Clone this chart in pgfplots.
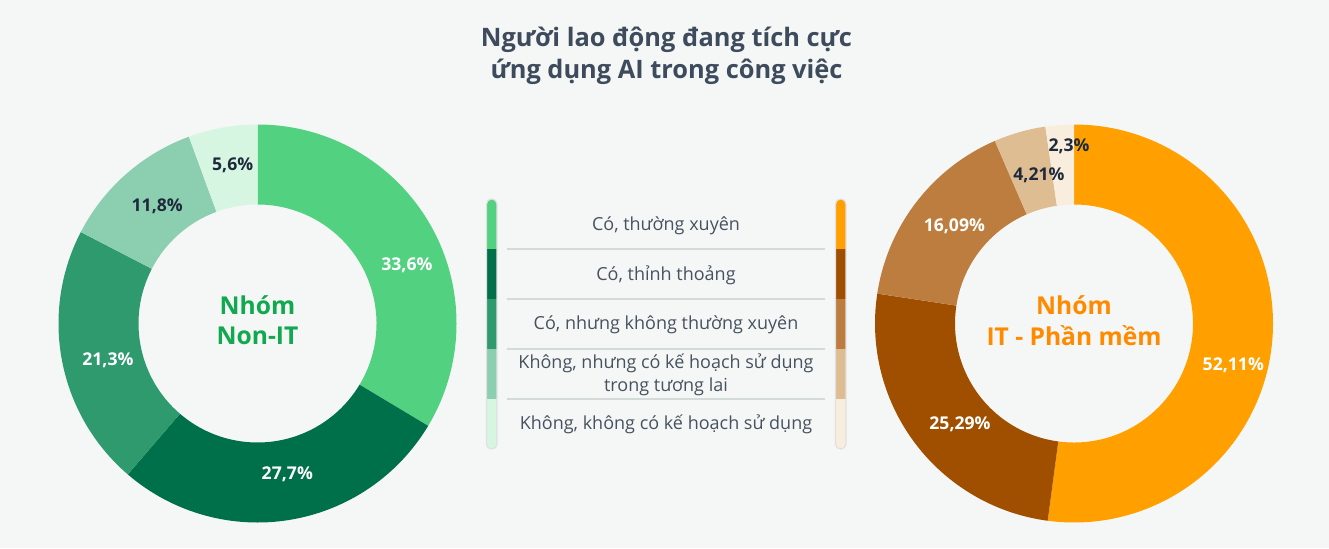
\documentclass[border=0pt]{standalone}
\usepackage{fontspec}
\setmainfont{Open Sans}
\usepackage{pgfplots}
\usepackage{pgfplotstable}
\pgfplotsset{compat=1.18}
\definecolor{bgc}{HTML}{F5F7F6}
\definecolor{gA}{HTML}{52D180}
\definecolor{gB}{HTML}{00704A}
\definecolor{gC}{HTML}{2E9A6E}
\definecolor{gD}{HTML}{8CCFB0}
\definecolor{gE}{HTML}{D6F6E2}
\definecolor{oA}{HTML}{FFA000}
\definecolor{oB}{HTML}{A04F00}
\definecolor{oC}{HTML}{BC7D3E}
\definecolor{oD}{HTML}{DFBD92}
\definecolor{oE}{HTML}{F9EEDD}
\definecolor{lbl}{HTML}{1E2A3B}
\definecolor{titlec}{HTML}{3D4B5C}
\definecolor{legc}{HTML}{46525F}
\definecolor{sepc}{HTML}{D3DBD9}
\definecolor{greent}{HTML}{12A84F}
\definecolor{oranget}{HTML}{FF8A00}

% share, label angle (deg), label radius (px), slice colour, label colour
\pgfplotstableread{
share la lr col tc
33.6 21.4 160.5 gA white
27.7 -78.8 153.4 gB white
21.3 193.7 154 gC white
11.8 130.5 154.4 gD lbl
5.6 98.9 160.4 gE lbl
}\nonit
\pgfplotstableread{
share la lr col tc
52.11 -14.6 164.6 oA white
25.29 221.4 152 oB white
16.09 140.8 154.4 oC white
4.21 103.3 152.6 oD lbl
2.3 91.6 177.6 oE lbl
}\itsw

\newcommand\donut[3]{%
 \pgfplotstablegetrowsof{#1}\pgfmathtruncatemacro\N{\pgfplotsretval-1}%
 \xdef\cum{0}%
 \foreach \i in {0,...,\N}{%
   \pgfplotstablegetelem{\i}{share}\of#1\pgfmathsetmacro\v{\pgfplotsretval}%
   \pgfplotstablegetelem{\i}{col}\of#1\edef\col{\pgfplotsretval}%
   \pgfmathsetmacro\aA{90-\cum*3.6}%
   \pgfmathsetmacro\aB{90-(\cum+\v)*3.6}%
   \fill[\col] (axis cs:#2,#3) ++(\aA:99.5pt) arc[start angle=\aA,end angle=\aB,radius=99.5pt]
      -- ++({\aB+180}:40pt) arc[start angle=\aB,end angle=\aA,radius=59.5pt] -- cycle;
   \pgfmathsetmacro\c{\cum+\v}\xdef\cum{\c}%
 }%
 \foreach \i in {0,...,\N}{%
   \pgfplotstablegetelem{\i}{share}\of#1\pgfmathsetmacro\v{\pgfplotsretval}%
   \pgfplotstablegetelem{\i}{la}\of#1\pgfmathsetmacro\la{\pgfplotsretval}%
   \pgfplotstablegetelem{\i}{lr}\of#1\pgfmathsetmacro\lr{\pgfplotsretval*0.5}%
   \pgfplotstablegetelem{\i}{tc}\of#1\edef\tc{\pgfplotsretval}%
   \path (axis cs:#2,#3) ++(\la:\lr pt) node[text=\tc,font=\bfseries\fontsize{8.8}{10}\selectfont]
     {\pgfmathprintnumber[use comma,precision=2,assume math mode=true]{\v}\%};
 }%
}

\newcommand\legbar[3]{% table, x-left, x-right
 \begin{scope}
 \clip[rounded corners=2.5pt] (axis cs:#2,99) rectangle (axis cs:#3,349);
 \pgfplotstablegetrowsof{#1}\pgfmathtruncatemacro\N{\pgfplotsretval-1}%
 \foreach \i in {0,...,\N}{%
   \pgfplotstablegetelem{\i}{col}\of#1\edef\col{\pgfplotsretval}%
   \pgfmathsetmacro\yt{349-50*\i}\pgfmathsetmacro\yb{\yt-50}%
   \fill[\col] (axis cs:#2,\yb) rectangle (axis cs:#3,\yt);
 }%
 \end{scope}
 \draw[black!12,line width=0.6pt,rounded corners=2.5pt] (axis cs:#2,99) rectangle (axis cs:#3,349);
}

\begin{document}
\begin{tikzpicture}
\begin{axis}[x=0.5pt,y=0.5pt,xmin=0,xmax=1329,ymin=0,ymax=548,
  hide axis,scale only axis,clip=false]
\pgfplotsextra{%
 \fill[bgc] (axis cs:0,0) rectangle (axis cs:1329,548);
 \donut{\nonit}{257.5}{224.5}%
 \donut{\itsw}{1074}{224.5}%
 % title
 \node[text=titlec,font=\bfseries\fontsize{12.7}{14}\selectfont] at (axis cs:666.5,508) {Người lao động đang tích cực};
 \node[text=titlec,font=\bfseries\fontsize{12.7}{14}\selectfont] at (axis cs:666.5,476) {ứng dụng AI trong công việc};
 % centre texts
 \node[text=greent,font=\bfseries\fontsize{12.3}{14}\selectfont] at (axis cs:257.5,243) {Nhóm};
 \node[text=greent,font=\bfseries\fontsize{12.3}{14}\selectfont] at (axis cs:257.5,212) {Non-IT};
 \node[text=oranget,font=\bfseries\fontsize{12.3}{14}\selectfont] at (axis cs:1074,243) {Nhóm};
 \node[text=oranget,font=\bfseries\fontsize{12.3}{14}\selectfont] at (axis cs:1074,212) {IT - Phần mềm};
 % legend
 \legbar{\nonit}{486.5}{497}%
 \legbar{\itsw}{835.5}{846}%
 \foreach \y in {299,249,199,149}{\draw[sepc,line width=0.8pt] (axis cs:507,\y) -- (axis cs:825,\y);}
 \begin{scope}[every node/.style={text=legc,font=\fontsize{9}{11.5}\selectfont,align=center}]
 \node at (axis cs:666,322.3) {Có, thường xuyên};
 \node at (axis cs:666,273) {Có, thỉnh thoảng};
 \node at (axis cs:666,223) {Có, nhưng không thường xuyên};
 \node at (axis cs:666,173.5) {Không, nhưng có kế hoạch sử dụng\\trong tương lai};
 \node at (axis cs:666,124) {Không, không có kế hoạch sử dụng};
 \end{scope}
}
\end{axis}
\end{tikzpicture}
\end{document}
